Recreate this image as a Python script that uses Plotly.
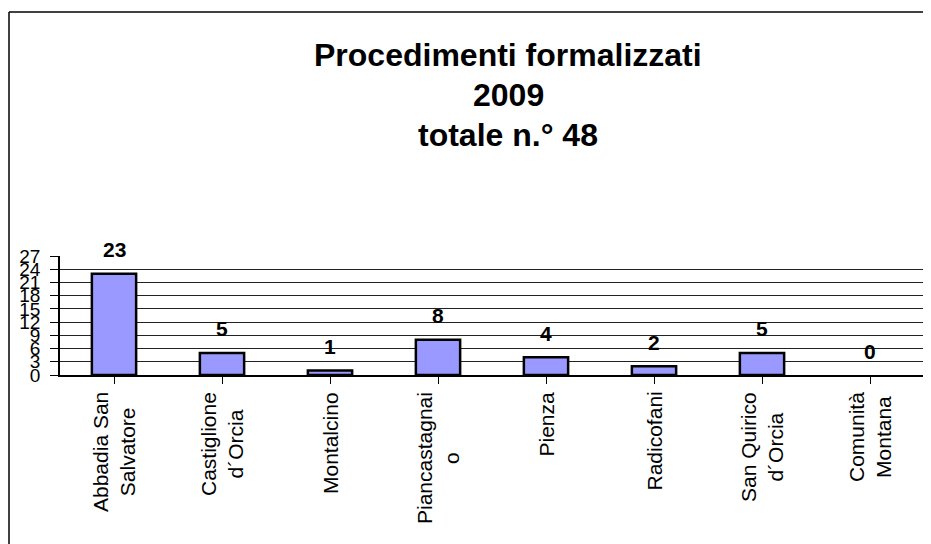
import plotly.graph_objects as go

categories = ["Abbadia San<br>Salvatore", "Castiglione<br>d\u00b4Orcia", "Montalcino", "Piancastagnai<br>o",
              "Pienza", "Radicofani", "San Quirico<br>d\u00b4Orcia", "Comunit\u00e0<br>Montana"]
values = [23, 5, 1, 8, 4, 2, 5, 0]
y_ticks = [0, 3, 6, 9, 12, 15, 18, 21, 24, 27]
title_lines = ["Procedimenti formalizzati", "2009", "totale n.\u00b0 48"]

FONT = "Arial, Liberation Sans, sans-serif"
OFF = 8  # page body margin
W, H = 931 - OFF, 544 - OFF
L, R, T, B = 60 - OFF, 7, 256 - OFF, 169
pw, ph = W - L - R, H - T - B

def px_x(x):
    return (x - OFF - L) / pw

def px_y(y):
    return (H - B - (y - OFF)) / ph

fig = go.Figure()
fig.add_trace(go.Bar(
    x=list(range(len(categories))), y=values,
    marker=dict(color="#9999FF",
                line=dict(color="black", width=[2.5 if v > 0 else 0 for v in values])),
    width=0.41, hoverinfo="skip",
))

annotations = []
for i, (c, v) in enumerate(zip(categories, values)):
    annotations.append(dict(x=i, y=v, xref="x", yref="y", text=f"<b>{v}</b>",
                            showarrow=False, yanchor="middle", yshift=24,
                            font=dict(family=FONT, size=21, color="black")))
    annotations.append(dict(x=i, y=0, xref="x", yref="paper", text=c,
                            showarrow=False, textangle=-90, align="center",
                            yanchor="top", xanchor="center", yshift=-15,
                            font=dict(family=FONT, size=21, color="black")))
for line, yc in zip(title_lines, [55, 95, 135]):
    annotations.append(dict(x=px_x(508), y=px_y(yc), xref="paper", yref="paper",
                            text=f"<b>{line}</b>", showarrow=False,
                            xanchor="center", yanchor="middle",
                            font=dict(family=FONT, size=32, color="black")))

shapes = [
    dict(type="line", xref="paper", yref="paper", x0=px_x(9), x1=px_x(9), y0=px_y(12), y1=px_y(560),
         line=dict(color="black", width=1.5)),
    dict(type="line", xref="paper", yref="paper", x0=px_x(9), x1=px_x(950), y0=px_y(12), y1=px_y(12),
         line=dict(color="black", width=1.5)),
]

fig.update_layout(
    width=W, height=H,
    margin=dict(l=L, r=R, t=T, b=B, pad=0),
    paper_bgcolor="white", plot_bgcolor="white",
    showlegend=False,
    annotations=annotations, shapes=shapes,
    xaxis=dict(range=[-0.5, len(categories) - 0.5], tickmode="array",
               tickvals=list(range(len(categories))), showticklabels=False,
               tickson="boundaries", ticks="outside", ticklen=7, tickcolor="black",
               showline=True, linecolor="black", linewidth=1.5, showgrid=False,
               zeroline=False, fixedrange=True),
    yaxis=dict(range=[0, 27], tickmode="array", tickvals=y_ticks,
               ticktext=[str(t) for t in y_ticks], ticks="outside", ticklen=8,
               tickcolor="black", showline=True, linecolor="black", linewidth=1.5,
               showgrid=True, gridcolor="#222", gridwidth=1, zeroline=False,
               tickfont=dict(family=FONT, size=19, color="black"),
               ticklabelstandoff=6, fixedrange=True),
)

fig.write_html("out.html")
